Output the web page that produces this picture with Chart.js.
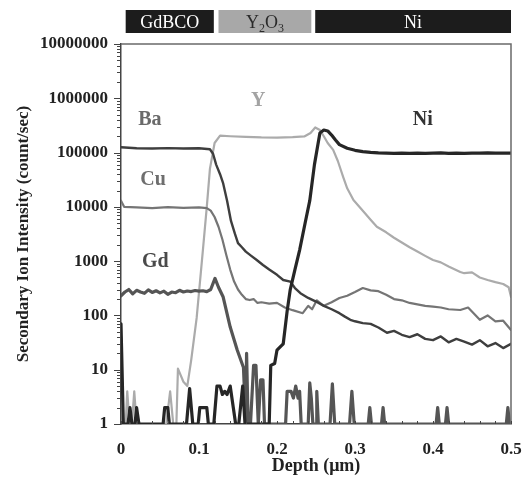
<!DOCTYPE html>
<html>
<head>
<meta charset="utf-8">
<script src="https://cdn.jsdelivr.net/npm/chart.js@4.4.1/dist/chart.umd.min.js"></script>
<style>
  html, body { margin: 0; padding: 0; background: #fff; }
  #wrap { width: 529px; height: 483px; }
</style>
</head>
<body>
<div id="wrap"><canvas id="simsChart" width="529" height="483"></canvas></div>
<script>
// SIMS depth profile (depth in um, counts/sec)
const baDepth = [0, 0.02, 0.04, 0.06, 0.08, 0.1, 0.114, 0.118, 0.122, 0.127, 0.131, 0.136, 0.141, 0.146, 0.15, 0.155, 0.16, 0.167, 0.174, 0.182, 0.19, 0.2, 0.208, 0.217, 0.223, 0.23, 0.24, 0.25, 0.26, 0.27, 0.28, 0.287, 0.294, 0.3, 0.31, 0.32, 0.33, 0.341, 0.35, 0.36, 0.37, 0.38, 0.39, 0.4, 0.41, 0.42, 0.43, 0.44, 0.45, 0.46, 0.47, 0.48, 0.49, 0.5];
const baCounts = [125000, 120000, 119000, 121000, 119000, 120000, 115000, 95000, 60000, 40000, 27000, 13000, 5500, 3200, 2150, 1800, 1500, 1250, 1050, 850, 700, 560, 450, 420, 320, 257, 210, 180, 150, 130, 110, 95, 83, 78, 72, 70, 60, 48, 52, 44, 40, 45, 37, 35, 41, 32, 37, 33, 29, 35, 27, 31, 25, 30];

const cuDepth = [0, 0.004, 0.02, 0.04, 0.06, 0.08, 0.1, 0.11, 0.115, 0.12, 0.125, 0.13, 0.135, 0.14, 0.145, 0.15, 0.155, 0.16, 0.165, 0.17, 0.175, 0.18, 0.19, 0.2, 0.21, 0.22, 0.233, 0.24, 0.245, 0.251, 0.26, 0.27, 0.28, 0.29, 0.3, 0.31, 0.32, 0.33, 0.34, 0.35, 0.36, 0.37, 0.38, 0.39, 0.4, 0.41, 0.42, 0.435, 0.445, 0.46, 0.47, 0.48, 0.49, 0.5];
const cuCounts = [13000, 10000, 9800, 9500, 9900, 9600, 9800, 9500, 8500, 6500, 4300, 2500, 1300, 700, 420, 300, 240, 200, 192, 200, 170, 175, 165, 170, 140, 125, 110, 150, 130, 190, 150, 175, 210, 230, 270, 320, 290, 280, 240, 200, 190, 170, 160, 150, 145, 140, 130, 126, 140, 83, 100, 78, 80, 54];

const yDepth = [0, 0.003, 0.006, 0.008, 0.011, 0.014, 0.017, 0.02, 0.058, 0.063, 0.067, 0.071, 0.073, 0.08, 0.085, 0.09, 0.097, 0.105, 0.11, 0.114, 0.12, 0.127, 0.14, 0.16, 0.18, 0.2, 0.22, 0.235, 0.243, 0.249, 0.255, 0.26, 0.265, 0.272, 0.278, 0.285, 0.29, 0.298, 0.31, 0.32, 0.328, 0.34, 0.35, 0.36, 0.37, 0.38, 0.39, 0.4, 0.41, 0.42, 0.435, 0.44, 0.45, 0.46, 0.47, 0.48, 0.49, 0.497, 0.5];
const yCounts = [4.5, 1, 1, 4, 1, 1, 4, 1, 1, 4, 1, 1, 10.5, 6, 5, 15, 90, 1600, 10000, 50000, 150000, 205000, 200000, 195000, 190000, 188000, 192000, 198000, 230000, 290000, 260000, 200000, 150000, 112000, 70000, 35000, 22000, 13400, 8500, 5800, 4300, 3400, 2700, 2200, 1800, 1500, 1250, 1050, 950, 800, 630, 600, 620, 500, 450, 410, 380, 330, 220];

const niDepth = [0, 0.003, 0.009, 0.0115, 0.014, 0.018, 0.02, 0.023, 0.054, 0.056, 0.06, 0.062, 0.084, 0.088, 0.092, 0.099, 0.101, 0.11, 0.112, 0.119, 0.123, 0.127, 0.13, 0.133, 0.136, 0.14, 0.144, 0.147, 0.151, 0.156, 0.159, 0.19, 0.192, 0.197, 0.2, 0.206, 0.208, 0.213, 0.217, 0.223, 0.229, 0.236, 0.242, 0.248, 0.255, 0.26, 0.265, 0.27, 0.275, 0.28, 0.29, 0.3, 0.31, 0.32, 0.33, 0.34, 0.35, 0.36, 0.37, 0.38, 0.39, 0.4, 0.41, 0.42, 0.43, 0.44, 0.45, 0.46, 0.47, 0.48, 0.49, 0.5];
const niCounts = [70, 1, 1, 2, 1, 1, 2, 1, 1, 2, 2, 1, 1, 4.5, 1, 1, 2, 2, 1, 1, 5, 5, 3.5, 4, 3.5, 5, 2, 1, 1, 5, 1, 1, 12, 13, 23, 28, 30, 120, 300, 700, 1600, 5000, 13000, 60000, 230000, 260000, 250000, 210000, 170000, 140000, 120000, 110000, 104000, 101000, 99000, 98000, 97000, 98000, 97000, 98000, 97000, 98000, 99000, 97000, 98000, 97000, 98000, 98000, 99000, 98000, 98000, 98000];

const gdDepth = [0, 0.005, 0.01, 0.015, 0.02, 0.025, 0.03, 0.035, 0.04, 0.045, 0.05, 0.055, 0.06, 0.065, 0.07, 0.075, 0.08, 0.085, 0.09, 0.095, 0.1, 0.105, 0.11, 0.115, 0.1205, 0.125, 0.131, 0.14, 0.149, 0.157, 0.16, 0.161, 0.163, 0.166, 0.17, 0.173, 0.176, 0.179, 0.182, 0.184, 0.211, 0.213, 0.218, 0.221, 0.224, 0.227, 0.229, 0.231, 0.24, 0.242, 0.244, 0.246, 0.25, 0.251, 0.253, 0.268, 0.271, 0.274, 0.293, 0.296, 0.299, 0.317, 0.319, 0.321, 0.334, 0.336, 0.338, 0.404, 0.406, 0.408, 0.416, 0.418, 0.42, 0.494, 0.496, 0.498, 0.5];
const gdCounts = [230, 270, 300, 250, 290, 270, 255, 295, 265, 285, 260, 280, 245, 270, 262, 290, 270, 282, 275, 288, 280, 285, 275, 300, 480, 330, 218, 61, 23, 11, 1, 20, 1, 1, 12, 12, 1, 6.5, 6.5, 1, 1, 4, 4, 3, 5, 3, 4, 1, 1, 5.7, 3, 1, 1, 4, 1, 1, 5.5, 1, 1, 4, 1, 1, 2, 1, 1, 2, 1, 1, 2, 1, 1, 2, 1, 1, 2, 1, 1];

// layer bar on top of the plot
const layerNames = ['GdBCO', 'Y2O3', 'Ni'];
const layerFrom = [0.006, 0.125, 0.249];
const layerTo = [0.119, 0.244, 0.5];

// element names written inside the plot
const tagNames = ['Ba', 'Y', 'Cu', 'Gd', 'Ni'];
const tagDepth = [0.037, 0.176, 0.041, 0.044, 0.387];
const tagCounts = [400000, 890000, 32000, 960, 400000];
const tagColors = ['#6a6a6a', '#a3a3a3', '#6e6e6e', '#4a4a4a', '#333333'];

const SERIF = '"Liberation Serif", "Times New Roman", serif';

function pts(xs, ys) {
  return xs.map((x, i) => ({ x: x, y: ys[i] }));
}

function isDecade(v) {
  const l = Math.log10(v);
  return Math.abs(l - Math.round(l)) < 1e-6;
}

const decorPlugin = {
  id: 'decor',
  afterDraw(chart) {
    const c = chart.ctx;
    const a = chart.chartArea;
    const xs = chart.scales.x, ys = chart.scales.y;
    c.save();

    // top + right frame
    c.strokeStyle = '#6a6a6a';
    c.lineWidth = 1.5;
    c.beginPath();
    c.moveTo(a.left, a.top);
    c.lineTo(a.right, a.top);
    c.lineTo(a.right, a.bottom);
    c.stroke();

    // y tick marks (outside)
    c.strokeStyle = '#444';
    c.lineWidth = 1;
    for (let d = 0; d < 7; d++) {
      for (let m = 1; m <= 9; m++) {
        const v = m * Math.pow(10, d);
        const py = Math.round(ys.getPixelForValue(v)) + 0.5;
        const len = m === 1 ? 7 : 4;
        c.beginPath();
        c.moveTo(a.left - len, py);
        c.lineTo(a.left, py);
        c.stroke();
      }
    }
    const pTop = Math.round(ys.getPixelForValue(1e7)) + 0.5;
    c.beginPath(); c.moveTo(a.left - 7, pTop); c.lineTo(a.left, pTop); c.stroke();

    // x tick marks (inside, every 0.02)
    for (let i = 0; i <= 25; i++) {
      const px = Math.round(xs.getPixelForValue(i * 0.02)) + 0.5;
      c.beginPath();
      c.moveTo(px, a.bottom);
      c.lineTo(px, a.bottom - 3);
      c.stroke();
    }

    // layer bar
    const barTop = 10, barH = 23;
    layerNames.forEach((name, i) => {
      const x0 = xs.getPixelForValue(layerFrom[i]);
      const x1 = xs.getPixelForValue(layerTo[i]);
      const dark = name !== 'Y2O3';
      c.fillStyle = dark ? '#1c1c1c' : '#a8a8a8';
      c.fillRect(x0, barTop, x1 - x0, barH);
      c.fillStyle = dark ? '#fff' : '#2a2a2a';
      c.textBaseline = 'alphabetic';
      const cx = (x0 + x1) / 2;
      const by = barTop + 18;
      if (name === 'Y2O3') {
        const parts = [['Y', 18, 0], ['2', 12, 4], ['O', 18, 0], ['3', 12, 4]];
        let w = 0;
        parts.forEach(p => { c.font = p[1] + 'px ' + SERIF; w += c.measureText(p[0]).width; });
        let px = cx - w / 2;
        c.textAlign = 'left';
        parts.forEach(p => {
          c.font = p[1] + 'px ' + SERIF;
          c.fillText(p[0], px, by + p[2]);
          px += c.measureText(p[0]).width;
        });
      } else {
        c.font = '18px ' + SERIF;
        c.textAlign = 'center';
        c.fillText(name, cx, by);
      }
    });

    // element tags
    c.font = 'bold 20px ' + SERIF;
    c.textAlign = 'center';
    c.textBaseline = 'middle';
    tagNames.forEach((t, i) => {
      c.fillStyle = tagColors[i];
      c.fillText(t, xs.getPixelForValue(tagDepth[i]), ys.getPixelForValue(tagCounts[i]));
    });
    c.restore();
  }
};

const ctx = document.getElementById('simsChart').getContext('2d');
new Chart(ctx, {
  type: 'line',
  data: {
    datasets: [
      { label: 'Ni', data: pts(niDepth, niCounts), borderColor: '#262626', borderWidth: 3.2, order: 1 },
      { label: 'Ba', data: pts(baDepth, baCounts), borderColor: '#3e3e3e', borderWidth: 2.4, order: 2 },
      { label: 'Gd', data: pts(gdDepth, gdCounts), borderColor: '#555555', borderWidth: 3.2, order: 3 },
      { label: 'Cu', data: pts(cuDepth, cuCounts), borderColor: '#757575', borderWidth: 2.2, order: 4 },
      { label: 'Y', data: pts(yDepth, yCounts), borderColor: '#ababab', borderWidth: 2.2, order: 5 }
    ]
  },
  options: {
    responsive: false,
    animation: false,
    devicePixelRatio: 1,
    layout: { padding: { top: 44, right: 18, left: 0, bottom: 0 } },
    elements: {
      point: { radius: 0 },
      line: { tension: 0, borderJoinStyle: 'round', borderCapStyle: 'round' }
    },
    plugins: {
      legend: { display: false },
      tooltip: { enabled: false }
    },
    scales: {
      x: {
        type: 'linear',
        min: 0,
        max: 0.5,
        // invisible tick marks only push the labels down (ticks.padding would shrink the plot)
        grid: { display: true, drawOnChartArea: false, drawTicks: true, tickLength: 15, tickColor: 'rgba(0,0,0,0)' },
        border: { display: true, color: '#444', width: 1.5 },
        ticks: {
          stepSize: 0.1,
          padding: 0,
          color: '#222',
          font: { family: SERIF, size: 17, weight: 'bold' },
          callback: v => (Math.round(v * 10) / 10).toString()
        },
        title: {
          display: true,
          text: 'Depth (\u03bcm)',
          color: '#222',
          font: { family: SERIF, size: 18, weight: 'bold' },
          padding: { top: 0, bottom: 6 }
        },
        afterFit: s => { s.height = 59; }
      },
      y: {
        type: 'logarithmic',
        min: 1,
        max: 10000000,
        grid: { display: false, drawTicks: false },
        border: { display: true, color: '#444', width: 1.5 },
        ticks: {
          autoSkip: false,
          padding: 13,
          color: '#222',
          font: { family: SERIF, size: 17, weight: 'bold' },
          callback: v => isDecade(v) ? String(Math.round(v)) : ''
        },
        title: {
          display: true,
          text: 'Secondary Ion Intensity (count/sec)',
          color: '#222',
          font: { family: SERIF, size: 17, weight: 'bold' },
          padding: { top: 13, bottom: 0 }
        },
        afterFit: s => { s.width = 121; }
      }
    }
  },
  plugins: [decorPlugin]
});
</script>
</body>
</html>
